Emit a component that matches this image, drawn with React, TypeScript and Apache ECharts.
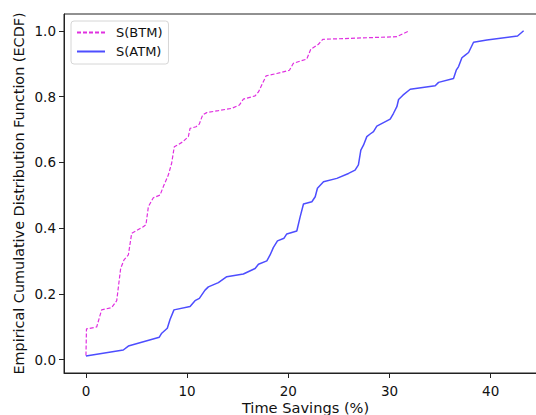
import React, { useEffect, useRef } from "react";
import * as echarts from "echarts";

const btmX = [0, 0.05, 1.06, 1.55, 2.54, 3.04, 3.43, 3.76, 4.19, 4.52, 5.67, 5.93, 6.17, 6.66, 7.32, 7.65, 8.14, 8.47, 8.73, 9.13, 9.56, 10.12, 10.29, 10.88, 11.2, 11.54, 11.94, 13.09, 14.41, 15.16, 15.56, 16.72, 17.05, 17.81, 18.86, 20.11, 20.5, 21.83, 22.22, 22.98, 23.41, 30.73, 31.95];
const btmY = [0.012, 0.093, 0.099, 0.151, 0.158, 0.179, 0.277, 0.303, 0.318, 0.384, 0.404, 0.41, 0.465, 0.492, 0.5, 0.526, 0.561, 0.597, 0.647, 0.654, 0.662, 0.678, 0.703, 0.708, 0.716, 0.744, 0.751, 0.757, 0.764, 0.774, 0.792, 0.802, 0.814, 0.863, 0.87, 0.88, 0.901, 0.914, 0.944, 0.959, 0.974, 0.982, 1.0];

const atmX = [0, 3.69, 4.19, 7.25, 7.49, 8.04, 8.31, 8.7, 10.29, 10.78, 11.21, 11.77, 12.1, 13.09, 13.92, 15.56, 16.72, 17.05, 17.88, 18.2, 18.53, 18.93, 19.58, 19.85, 20.84, 21.17, 21.5, 22.33, 22.66, 22.88, 23.48, 24.8, 25.95, 26.6, 26.93, 27.17, 27.43, 27.76, 28.09, 28.42, 28.75, 30.07, 30.4, 30.73, 30.9, 31.33, 32.05, 34.52, 34.85, 36.33, 36.6, 36.83, 37.16, 37.49, 37.82, 38.31, 39.63, 42.66, 43.26];
const atmY = [0.011, 0.029, 0.041, 0.068, 0.08, 0.095, 0.122, 0.151, 0.161, 0.179, 0.186, 0.211, 0.221, 0.234, 0.252, 0.26, 0.277, 0.29, 0.3, 0.318, 0.341, 0.361, 0.369, 0.382, 0.391, 0.434, 0.473, 0.48, 0.495, 0.521, 0.541, 0.551, 0.566, 0.576, 0.592, 0.637, 0.652, 0.678, 0.686, 0.693, 0.71, 0.731, 0.749, 0.769, 0.791, 0.804, 0.822, 0.833, 0.843, 0.855, 0.88, 0.891, 0.918, 0.926, 0.934, 0.965, 0.972, 0.984, 1.0];

const xTicks = [0, 10, 20, 30, 40];
const yTicks = [0, 0.2, 0.4, 0.6, 0.8, 1.0];

const FONT = "DejaVu Sans";

export default function App() {
  const ref = useRef<HTMLDivElement>(null);
  useEffect(() => {
    document.body.style.margin = "0";
    const chart = echarts.init(ref.current!, undefined, { renderer: "svg" });
    const zip = (xs: number[], ys: number[]) => xs.map((x, i) => [x, ys[i]]);
    chart.setOption({
      animation: false,
      textStyle: { fontFamily: FONT },
      grid: {
        left: 64,
        top: 14,
        width: 483,
        height: 359,
        outerBoundsMode: "none",
        containLabel: false,
        show: true,
        borderColor: "#222",
        borderWidth: 1,
        backgroundColor: "transparent",
      },
      legend: {
        orient: "vertical",
        left: 71,
        top: 21,
        padding: [5, 6, 6, 5],
        itemWidth: 28,
        itemHeight: 14,
        itemGap: 6,
        backgroundColor: "rgba(255,255,255,0.8)",
        borderColor: "#d6d6d6",
        borderWidth: 1,
        borderRadius: 3,
        itemStyle: { color: "rgba(0,0,0,0)", borderWidth: 0, opacity: 0 },
        textStyle: { fontFamily: FONT, fontSize: 13, color: "#111", padding: [0, 0, 0, 6] },
        data: ["S(BTM)", "S(ATM)"],
      },
      xAxis: {
        type: "value",
        min: -2.17,
        max: 45.57,
        name: "Time Savings (%)",
        nameLocation: "middle",
        nameGap: 27,
        nameMoveOverlap: false,
        nameTextStyle: { fontFamily: FONT, fontSize: 14.6, color: "#111" },
        splitLine: { show: false },
        axisLine: { show: true, onZero: false, lineStyle: { color: "#222", width: 1 } },
        axisTick: { show: true, length: 5, inside: false, customValues: xTicks, lineStyle: { color: "#222" } },
        axisLabel: { customValues: xTicks, margin: 11, fontSize: 13.5, color: "#111", fontFamily: FONT },
      },
      yAxis: {
        type: "value",
        min: -0.041,
        max: 1.051,
        name: "Empirical Cumulative Distribution Function (ECDF)",
        nameLocation: "middle",
        nameGap: 38,
        nameMoveOverlap: false,
        nameTextStyle: { fontFamily: FONT, fontSize: 14.4, color: "#111" },
        splitLine: { show: false },
        axisLine: { show: true, onZero: false, lineStyle: { color: "#222", width: 1 } },
        axisTick: { show: true, length: 5, inside: false, customValues: yTicks, lineStyle: { color: "#222" } },
        axisLabel: {
          customValues: yTicks,
          margin: 8,
          fontSize: 13.5,
          color: "#111",
          fontFamily: FONT,
          formatter: (v: number) => v.toFixed(1),
        },
      },
      series: [
        {
          name: "S(BTM)",
          type: "line",
          data: zip(btmX, btmY),
          symbol: "none",
          showSymbol: false,
          lineStyle: { color: "#e030e0", width: 1.2, type: [4, 2] },
          itemStyle: { color: "#e030e0" },
        },
        {
          name: "S(ATM)",
          type: "line",
          data: zip(atmX, atmY),
          symbol: "none",
          showSymbol: false,
          lineStyle: { color: "#4d4dff", width: 1.5 },
          itemStyle: { color: "#4d4dff" },
        },
      ],
    });
    return () => chart.dispose();
  }, []);
  return <div ref={ref} style={{ width: 536, height: 415 }} />;
}
